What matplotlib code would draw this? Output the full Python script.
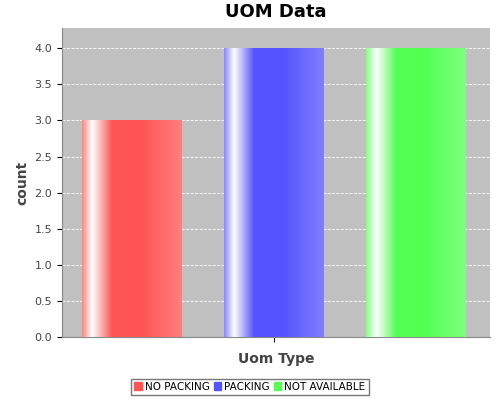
import numpy as np
import matplotlib.pyplot as plt
from matplotlib.patches import Patch

categories = ['NO PACKING', 'PACKING', 'NOT AVAILABLE']
counts = [3.0, 4.0, 4.0]
colors = [(1.0, 0.33, 0.33), (0.33, 0.33, 1.0), (0.33, 1.0, 0.33)]
yticks = [0.0, 0.5, 1.0, 1.5, 2.0, 2.5, 3.0, 3.5, 4.0]

fig = plt.figure(figsize=(5, 4), dpi=100)
ax = fig.add_axes([0.124, 0.1575, 0.856, 0.7725])
ax.set_facecolor('#c0c0c0')

bars = ax.bar(range(len(counts)), counts, width=0.7, color='none', zorder=3)

# gradient profile like JFreeChart's bar painter
t = np.linspace(0, 1, 200)
white = np.interp(t, [0, 0.1, 0.3, 0.6, 1.0], [0.3, 1.0, 0.0, 0.0, 0.25])
for b, c in zip(bars, colors):
    rgb = np.array(c)[None, :] * (1 - white[:, None]) + white[:, None]
    img = rgb[None, :, :]
    x0, y0 = b.get_x(), b.get_y()
    ax.imshow(img, extent=[x0, x0 + b.get_width(), y0, y0 + b.get_height()],
              aspect='auto', zorder=3, interpolation='bilinear')

ax.set_xlim(-0.493, 2.521)
ax.set_ylim(0, 4.28)
ax.set_yticks(yticks)
ax.set_yticklabels(['%.1f' % v for v in yticks], fontsize=8, color='#444444')
ax.set_xticks([1])
ax.set_xticklabels([''])
ax.yaxis.grid(True, color='white', linestyle='--', linewidth=0.6, zorder=1)
for s in ['top', 'right']:
    ax.spines[s].set_visible(False)
ax.spines['left'].set_color('#888888')
ax.spines['bottom'].set_color('#888888')

ax.set_title('UOM Data', fontsize=13, fontweight='bold', pad=8)
ax.set_ylabel('count', fontsize=10, fontweight='bold', color='#444444')
ax.set_xlabel('Uom Type', fontsize=10, fontweight='bold', color='#444444', labelpad=4)

handles = [Patch(color=c, label=n) for c, n in zip(colors, categories)]
fig.legend(handles=handles, loc='lower center', bbox_to_anchor=(0.5, 0.0),
           ncol=3, fontsize=7.5, frameon=True, fancybox=False, edgecolor='#555555',
           handlelength=0.7, handleheight=0.7, handletextpad=0.3, columnspacing=0.4,
           borderpad=0.3)

fig.savefig('out.png', dpi=100)
